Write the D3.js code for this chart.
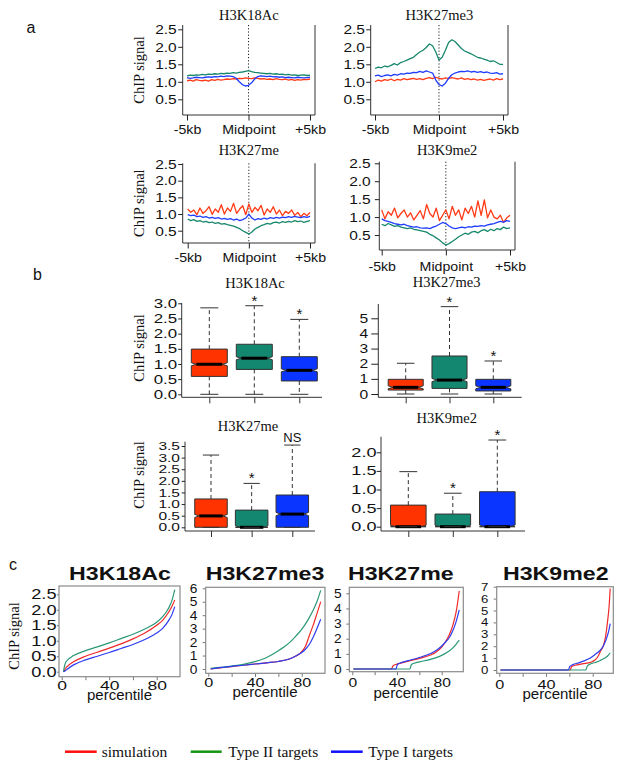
<!DOCTYPE html>
<html><head><meta charset="utf-8">
<script src="https://cdn.jsdelivr.net/npm/d3@7"></script>
<style>body{margin:0;background:#fff}</style>
</head><body>
<script>
// ================= DATA =================
const groups = ["simulation", "Type II targets", "Type I targets"];
const kbTickValues = [-5, 0, 5];
const kbTickLabels = ["-5kb", "Midpoint", "+5kb"];
const profileBins = d3.range(-5, 5.0001, 0.25); // bin centres (kb)
const ticksA = [0.5, 1, 1.5, 2, 2.5];

// panel a : average profiles around midpoint
const profH3K18Ac_sim = [1.03,1.05,1.02,1.06,1.04,1.03,1.05,1.02,1.06,1.04,1.07,1.05,1.06,1.08,1.07,1.09,1.08,1.10,1.09,1.11,1.10,1.09,1.11,1.10,1.08,1.09,1.07,1.08,1.06,1.09,1.07,1.06,1.08,1.05,1.07,1.04,1.06,1.05,1.07,1.06,1.08];
const profH3K18Ac_t2  = [1.17,1.19,1.18,1.20,1.19,1.21,1.20,1.22,1.21,1.23,1.22,1.24,1.23,1.25,1.24,1.26,1.25,1.27,1.28,1.30,1.32,1.29,1.27,1.26,1.25,1.24,1.23,1.24,1.22,1.23,1.21,1.22,1.20,1.21,1.19,1.20,1.18,1.19,1.20,1.18,1.19];
const profH3K18Ac_t1  = [1.12,1.10,1.11,1.13,1.12,1.11,1.13,1.14,1.13,1.15,1.14,1.16,1.15,1.17,1.16,1.15,1.10,1.00,0.92,0.88,0.90,0.97,1.08,1.15,1.17,1.16,1.15,1.16,1.14,1.15,1.13,1.14,1.12,1.13,1.12,1.11,1.13,1.12,1.11,1.12,1.13];
const profH3K27me3_sim = [1.00,1.05,1.02,1.06,1.04,1.08,1.03,1.07,1.05,1.09,1.06,1.08,1.10,1.07,1.09,1.06,1.10,1.12,1.09,1.13,1.10,1.08,1.11,1.09,1.12,1.10,1.08,1.11,1.07,1.09,1.06,1.08,1.05,1.07,1.04,1.06,1.08,1.05,1.09,1.06,1.08];
const profH3K27me3_t2  = [1.38,1.42,1.40,1.45,1.43,1.47,1.52,1.48,1.55,1.58,1.62,1.66,1.70,1.78,1.85,1.90,1.98,2.08,2.03,1.85,1.62,1.70,1.90,2.12,2.20,2.15,2.05,1.95,1.88,1.84,1.80,1.75,1.70,1.68,1.65,1.62,1.58,1.60,1.55,1.50,1.50];
const profH3K27me3_t1  = [1.17,1.19,1.15,1.18,1.20,1.17,1.21,1.19,1.23,1.22,1.25,1.24,1.27,1.26,1.30,1.27,1.31,1.28,1.25,1.05,0.92,0.88,0.96,1.10,1.20,1.25,1.28,1.30,1.29,1.31,1.28,1.30,1.27,1.29,1.26,1.28,1.25,1.24,1.26,1.22,1.23];
const profH3K27me_sim = [1.15,1.05,1.12,0.98,1.18,1.02,1.10,1.22,0.99,1.15,1.05,1.28,1.00,1.18,1.08,1.32,1.02,1.15,1.25,0.98,1.30,1.05,1.20,1.10,1.26,0.97,1.15,1.05,1.22,1.00,1.12,0.95,1.08,1.02,1.12,0.96,1.05,0.92,1.02,0.95,1.05];
const profH3K27me_t2  = [0.85,0.80,0.83,0.78,0.80,0.76,0.78,0.74,0.76,0.72,0.74,0.70,0.71,0.68,0.66,0.64,0.60,0.56,0.50,0.45,0.40,0.46,0.55,0.60,0.65,0.68,0.72,0.70,0.74,0.76,0.73,0.77,0.75,0.78,0.76,0.80,0.77,0.79,0.75,0.78,0.80];
const profH3K27me_t1  = [0.98,0.95,0.97,0.92,0.94,0.90,0.92,0.88,0.90,0.87,0.89,0.85,0.87,0.84,0.86,0.82,0.85,0.80,0.83,0.88,1.00,0.88,0.82,0.86,0.84,0.88,0.85,0.89,0.87,0.90,0.88,0.91,0.89,0.92,0.90,0.93,0.91,0.89,0.92,0.90,0.93];
const profH3K9me2_sim = [1.20,0.95,1.15,1.05,1.25,0.98,1.10,1.20,1.00,1.12,0.92,1.05,1.18,0.95,1.35,1.10,1.00,1.25,0.90,1.05,1.20,0.95,1.30,1.05,1.20,0.92,1.25,1.10,1.30,1.00,1.45,1.05,1.48,0.98,1.20,1.00,0.95,1.05,0.85,0.98,1.05];
const profH3K9me2_t2  = [0.80,0.76,0.82,0.78,0.74,0.76,0.72,0.70,0.68,0.70,0.66,0.64,0.62,0.60,0.58,0.52,0.48,0.42,0.36,0.28,0.22,0.26,0.32,0.38,0.45,0.50,0.55,0.52,0.58,0.60,0.56,0.62,0.65,0.60,0.66,0.62,0.68,0.65,0.72,0.68,0.70];
const profH3K9me2_t1  = [0.95,0.90,0.88,0.85,0.82,0.80,0.78,0.80,0.76,0.74,0.72,0.73,0.70,0.69,0.70,0.68,0.72,0.75,0.80,0.85,0.82,0.75,0.70,0.68,0.70,0.72,0.70,0.73,0.72,0.75,0.74,0.76,0.75,0.78,0.80,0.82,0.85,0.88,0.86,0.90,0.88];

// panel b : box statistics [lower whisker, Q1, median, Q3, upper whisker]
const boxH3K18Ac_sim = [0, 0.59, 0.99, 1.49, 2.85];
const boxH3K18Ac_t2  = [0, 0.82, 1.19, 1.65, 2.92];
const boxH3K18Ac_t1  = [0, 0.44, 0.79, 1.24, 2.47];
const boxH3K27me3_sim = [0, 0.26, 0.44, 0.97, 2.03];
const boxH3K27me3_t2  = [0, 0.37, 0.92, 2.51, 5.77];
const boxH3K27me3_t1  = [0, 0.20, 0.44, 0.97, 2.18];
const boxH3K27me_sim = [0, 0, 0.49, 1.22, 3.11];
const boxH3K27me_t2  = [0, 0, 0, 0.74, 1.89];
const boxH3K27me_t1  = [0, 0, 0.57, 1.39, 3.54];
const boxH3K9me2_sim = [0, 0, 0, 0.58, 1.48];
const boxH3K9me2_t2  = [0, 0, 0, 0.34, 0.90];
const boxH3K9me2_t1  = [0, 0, 0, 0.94, 2.33];
const sigH3K18Ac  = ["", "*", "*"];
const sigH3K27me3 = ["", "*", "*"];
const sigH3K27me  = ["", "*", "NS"];
const sigH3K9me2  = ["", "*", "*"];
const ticksB1 = [0, 0.5, 1, 1.5, 2, 2.5, 3];
const ticksB2 = [0, 1, 2, 3, 4, 5];
const ticksB3 = [0, 0.5, 1, 1.5, 2, 2.5, 3, 3.5];
const ticksB4 = [0, 0.5, 1, 1.5, 2];

// panel c : sorted signal vs percentile  [percentile, signal]
const pctTicks = [0, 20, 40, 60, 80];
const pctLabels = ["0", "", "40", "", "80"];
const cdfH3K18Ac_sim = [[1.5,0],[2.5,0.05],[3.5,0.12],[5,0.18],[10,0.32],[20,0.5],[30,0.63],[40,0.76],[50,0.9],[60,1.06],[70,1.25],[80,1.5],[85,1.66],[90,1.92],[93,2.12],[95.2,2.32]];
const cdfH3K18Ac_t2  = [[1.5,0],[2.2,0.15],[3,0.27],[5,0.38],[10,0.52],[20,0.68],[30,0.8],[40,0.93],[50,1.07],[60,1.21],[70,1.38],[80,1.6],[85,1.78],[90,2.05],[93,2.32],[95.2,2.65]];
const cdfH3K18Ac_t1  = [[1.5,0],[3,0.03],[5,0.09],[10,0.22],[20,0.38],[30,0.5],[40,0.62],[50,0.75],[60,0.88],[70,1.04],[80,1.25],[85,1.4],[90,1.65],[93,1.86],[95.2,2.1]];
const cdfH3K27me3_sim = [[2,0],[10,0.08],[20,0.18],[30,0.28],[40,0.37],[50,0.46],[60,0.56],[70,0.76],[75,0.96],[79,1.2],[83,1.65],[87,2.6],[90,3.3],[93,4.1],[96.3,5.0]];
const cdfH3K27me3_t2  = [[2,0.05],[10,0.12],[20,0.22],[30,0.35],[40,0.55],[50,0.85],[60,1.35],[65,1.65],[70,2.0],[75,2.45],[80,2.95],[85,3.6],[90,4.4],[93,5.0],[96.3,5.85]];
const cdfH3K27me3_t1  = [[2,0],[10,0.1],[20,0.2],[30,0.28],[40,0.37],[50,0.46],[60,0.56],[70,0.76],[75,0.96],[79,1.17],[83,1.45],[87,1.9],[90,2.4],[93,3.0],[96.3,3.7]];
const cdfH3K27me_sim = [[1,0],[35,0],[36.5,0.22],[40,0.32],[45,0.42],[50,0.52],[60,0.7],[70,0.92],[75,1.12],[80,1.45],[83,1.75],[87,2.3],[90,2.9],[93,3.8],[95.7,5.15]];
const cdfH3K27me_t2  = [[1,0],[51.5,0],[53,0.3],[56,0.4],[60,0.47],[70,0.64],[75,0.75],[80,0.9],[85,1.1],[90,1.4],[93,1.65],[95.7,1.9]];
const cdfH3K27me_t1  = [[1,0],[39,0],[40.5,0.3],[43,0.4],[50,0.55],[60,0.76],[70,1.02],[75,1.22],[80,1.52],[83,1.75],[87,2.1],[90,2.55],[93,3.15],[95.7,3.9]];
const cdfH3K9me2_sim = [[1,0],[60.5,0],[62,0.3],[65,0.4],[70,0.5],[75,0.58],[80,0.72],[84,1.05],[87,1.65],[89,2.0],[91,2.8],[92.5,3.9],[94,5.3],[95,6.85]];
const cdfH3K9me2_t2  = [[1,0],[74,0],[75.5,0.35],[78,0.5],[82,0.63],[86,0.78],[90,0.98],[93,1.2],[95,1.45]];
const cdfH3K9me2_t1  = [[1,0],[59,0],[60.5,0.3],[63,0.45],[68,0.6],[72,0.75],[78,1.0],[82,1.3],[86,1.62],[88,1.85],[90,2.2],[92,2.7],[94,3.4],[95,3.9]];
const ticksC1 = [0, 0.5, 1, 1.5, 2, 2.5];
const ticksC2 = [0, 1, 2, 3, 4, 5, 6];
const ticksC3 = [0, 1, 2, 3, 4, 5];
const ticksC4 = [0, 1, 2, 3, 4, 5, 6, 7];

// ================= STYLE / LAYOUT =================
const SANS = "'Liberation Sans', Arial, Helvetica, sans-serif";
const SERIF = "'Liberation Serif', 'Times New Roman', Times, serif";
const colA = ["#ff3a14", "#17876c", "#1f3cff"];
const colB = ["#ff3300", "#13876f", "#0a34ff"];
const colC = ["#ee2a2a", "#2a9877", "#2c3cf0"];
const colLegend = ["#ff0d0d", "#149614", "#1010ff"];

const svg = d3.select("body").append("svg").attr("width", 624).attr("height", 769).style("display", "block");
svg.append("rect").attr("width", 624).attr("height", 769).attr("fill", "#fff");

function addText(g, x, y, s, o = {}) {
  let tr = `translate(${x},${y})`;
  if (o.rot) tr += ` rotate(${o.rot})`;
  if (o.sx) tr += ` scale(${o.sx},1)`;
  return g.append("text").attr("transform", tr)
    .attr("text-anchor", o.anchor || "middle")
    .attr("font-family", o.family || SANS)
    .attr("font-size", o.size || 14)
    .attr("font-weight", o.weight || "normal")
    .attr("fill", o.fill || "#111").text(s);
}
function styleLeft(sel, size, sx, gap, tickCol) {
  sel.select(".domain").remove();
  sel.selectAll(".tick line").attr("stroke", tickCol || "#222");
  sel.selectAll(".tick text").attr("x", 0).attr("font-family", SANS).attr("font-size", size).attr("fill", "#111")
    .attr("transform", `translate(${-gap},0) scale(${sx},1)`);
}
function styleBottom(sel, size, sx, gap, tickCol) {
  sel.select(".domain").remove();
  sel.selectAll(".tick line").attr("stroke", tickCol || "#222");
  sel.selectAll(".tick text").attr("y", gap).attr("font-family", SANS).attr("font-size", size).attr("fill", "#111")
    .attr("transform", `scale(${sx},1)`);
}

// ---------- panel a ----------
function drawProfile(c, series, title, ylab) {
  const g = svg.append("g");
  const x = d3.scaleLinear().domain([-5, 5]).range(c.xr);
  const y = d3.scaleLinear().domain([0.5, 2.5]).range(c.yr);
  g.append("path").attr("d", `M${c.L},${c.T}V${c.B}H${c.R}V${c.T}`).attr("fill", "none").attr("stroke", "#333").attr("stroke-width", 1);
  const ya = g.append("g").attr("transform", `translate(${c.L},0)`)
    .call(d3.axisLeft(y).tickValues(ticksA).tickFormat(d3.format(".1f")).tickSize(4.5));
  styleLeft(ya, 13.5, 1.15, c.yGap);
  const xa = g.append("g").attr("transform", `translate(0,${c.B})`)
    .call(d3.axisBottom(x).tickValues(kbTickValues).tickFormat((d, i) => kbTickLabels[i]).tickSize(5.5));
  styleBottom(xa, 13.5, 1.05, c.xGap);
  g.append("line").attr("x1", x(0)).attr("x2", x(0)).attr("y1", c.T).attr("y2", c.B)
    .attr("stroke", "#222").attr("stroke-width", 1).attr("stroke-dasharray", "1.2,2");
  const line = d3.line().x((d, i) => x(profileBins[i])).y(d => y(d));
  series.forEach((s, k) => {
    g.append("path").datum(s).attr("d", line).attr("fill", "none").attr("stroke", colA[k]).attr("stroke-width", 1.3).attr("stroke-linejoin", "round");
  });
  addText(g, (c.L + c.R) / 2, c.titleY, title, { family: SERIF, size: 14.5 });
  if (ylab) addText(g, 144, (c.T + c.B) / 2, "ChIP signal", { family: SERIF, size: 14.5, rot: -90 });
}

// ---------- panel b ----------
function drawBoxes(c, stats, sigs, ticks, fmt, title) {
  const g = svg.append("g");
  const y = d3.scaleLinear().domain([0, c.yv]).range([c.y0, c.y1]);
  const x = d3.scaleLinear().domain([1, 3]).range([c.c1, c.c3]);
  const bw = (x(2) - x(1)) * 0.8, hw = bw / 2, nf = 0.72;
  g.append("path").attr("d", `M${c.L},${c.T}V${c.B}H${c.R}`).attr("fill", "none").attr("stroke", "#333").attr("stroke-width", 1);
  const ya = g.append("g").attr("transform", `translate(${c.L},0)`)
    .call(d3.axisLeft(y).tickValues(ticks).tickFormat(d3.format(fmt)).tickSize(c.tick));
  styleLeft(ya, c.fs, c.sx, c.gap);
  const xa = g.append("g").attr("transform", `translate(0,${c.B})`)
    .call(d3.axisBottom(x).tickValues([1, 2, 3]).tickFormat("").tickSize(6));
  xa.select(".domain").remove(); xa.selectAll(".tick line").attr("stroke", "#333");
  stats.forEach((s, i) => {
    const cx = x(i + 1);
    const [lo, q1, med, q3, hi] = s;
    const yq1 = y(q1), yq3 = y(q3), ym = y(med), ylo = y(lo), yhi = y(hi);
    const dash = { stroke: "#333", "stroke-width": 1, "stroke-dasharray": "4,3" };
    const seg = (x1, y1, x2, y2, st) => { const l = g.append("line").attr("x1", x1).attr("y1", y1).attr("x2", x2).attr("y2", y2); Object.entries(st).forEach(([k, v]) => l.attr(k, v)); };
    if (hi > q3) seg(cx, yq3, cx, yhi, dash);
    if (lo < q1) seg(cx, yq1, cx, ylo, dash);
    const n = Math.max(1.5, (yq1 - yq3) * 0.05);
    const nTop = Math.max(yq3, ym - n), nBot = Math.min(yq1, ym + n);
    const pts = [[cx - hw, yq1], [cx + hw, yq1], [cx + hw, nBot], [cx + hw * nf, ym], [cx + hw, nTop], [cx + hw, yq3],
                 [cx - hw, yq3], [cx - hw, nTop], [cx - hw * nf, ym], [cx - hw, nBot]];
    g.append("polygon").attr("points", pts.map(p => p.join(",")).join(" ")).attr("fill", colB[i]).attr("stroke", "#333").attr("stroke-width", 1);
    seg(cx - hw * nf, ym, cx + hw * nf, ym, { stroke: "#000", "stroke-width": 3 });
    seg(cx - hw / 2, yhi, cx + hw / 2, yhi, { stroke: "#333", "stroke-width": 1 });
    seg(cx - hw / 2, ylo, cx + hw / 2, ylo, { stroke: "#333", "stroke-width": 1 });
    if (sigs[i] === "*") addText(g, cx, yhi, "*", { size: 15 });
    else if (sigs[i]) addText(g, cx, yhi - 3.5, sigs[i], { size: 13 });
  });
  addText(g, c.titleX, c.titleY, title, { family: SERIF, size: 14.5 });
  if (c.ylab) addText(g, 143.5, c.ylabY, "ChIP signal", { family: SERIF, size: 14.5, rot: -90 });
}

// ---------- panel c ----------
function drawCdf(c, series, ticks, fmt, title) {
  const g = svg.append("g");
  const x = d3.scaleLinear().domain([0, 80]).range([c.x0, c.x80]);
  const y = d3.scaleLinear().domain([0, c.yv]).range([c.y0, c.y1]);
  const ya = g.append("g").attr("transform", `translate(${c.L},0)`)
    .call(d3.axisLeft(y).tickValues(ticks).tickFormat(d3.format(fmt)).tickSize(c.ytick));
  styleLeft(ya, c.yfs, c.ysx, c.ygap, "#777");
  const xa = g.append("g").attr("transform", `translate(0,${c.B})`)
    .call(d3.axisBottom(x).tickValues(pctTicks).tickFormat((d, i) => pctLabels[i]).tickSize(3.5));
  styleBottom(xa, c.xfs, c.xsx, c.xgap, "#777");
  const line = d3.line().x(d => x(d[0])).y(d => y(d[1])).curve(d3.curveMonotoneX);
  series.forEach((s, k) => {
    g.append("path").datum(s).attr("d", line).attr("fill", "none").attr("stroke", colC[k]).attr("stroke-width", 1.2);
  });
  g.append("rect").attr("x", c.L).attr("y", c.T).attr("width", c.R - c.L).attr("height", c.B - c.T)
    .attr("fill", "none").attr("stroke", "#8a8a8a").attr("stroke-width", 1.2);
  addText(g, c.titleX, 579.5, title, { size: 19, weight: "bold", sx: 1.22 });
  addText(g, c.pX, c.pY, "percentile", { size: 15 });
  if (c.ylab) addText(g, 18.5, 636, "ChIP signal", { family: SERIF, size: 14.5, rot: -90 });
}

// ================= DRAW =================
addText(svg, 31, 33.3, "a", { size: 16 });
addText(svg, 37.5, 280, "b", { size: 16 });
addText(svg, 13, 570, "c", { size: 16 });

drawProfile({ L: 182.7, R: 315, T: 25, B: 115, xr: [187, 310], yr: [99.3, 29.3], yGap: 6, xGap: 9.5, titleY: 19.5 },
  [profH3K18Ac_sim, profH3K18Ac_t2, profH3K18Ac_t1], "H3K18Ac", true);
drawProfile({ L: 370.7, R: 508, T: 25, B: 115, xr: [375, 503], yr: [99.3, 29.3], yGap: 5.7, xGap: 9.5, titleY: 19.5 },
  [profH3K27me3_sim, profH3K27me3_t2, profH3K27me3_t1], "H3K27me3", false);
drawProfile({ L: 182.7, R: 315, T: 163.3, B: 243, xr: [187.7, 310], yr: [230.7, 164], yGap: 6, xGap: 9, titleY: 154.5 },
  [profH3K27me_sim, profH3K27me_t2, profH3K27me_t1], "H3K27me", true);
drawProfile({ L: 379.3, R: 515, T: 161.7, B: 250, xr: [381.7, 510], yr: [235, 163.3], yGap: 8.6, xGap: 11, titleY: 154.5 },
  [profH3K9me2_sim, profH3K9me2_t2, profH3K9me2_t1], "H3K9me2", false);

drawBoxes({ L: 181.7, R: 322, T: 303, B: 397.3, yv: 3, y0: 394.3, y1: 303.3, c1: 209.3, c3: 299.3, tick: 3.5, gap: 4.5, fs: 13, sx: 1.3,
  titleX: 255, titleY: 288, ylab: true, ylabY: 348 },
  [boxH3K18Ac_sim, boxH3K18Ac_t2, boxH3K18Ac_t1], sigH3K18Ac, ticksB1, ".1f", "H3K18Ac");
drawBoxes({ L: 378.3, R: 521.7, T: 304, B: 397.3, yv: 5, y0: 394, y1: 318.3, c1: 405.7, c3: 493.3, tick: 7, gap: 10, fs: 12.5, sx: 1.25,
  titleX: 446.7, titleY: 286.5, ylab: false },
  [boxH3K27me3_sim, boxH3K27me3_t2, boxH3K27me3_t1], sigH3K27me3, ticksB2, "d", "H3K27me3");
drawBoxes({ L: 185, R: 315, T: 441.7, B: 531, yv: 3.5, y0: 527.3, y1: 446, c1: 211, c3: 292.3, tick: 3.3, gap: 5, fs: 11.5, sx: 1.35,
  titleX: 248, titleY: 430.5, ylab: true, ylabY: 475 },
  [boxH3K27me_sim, boxH3K27me_t2, boxH3K27me_t1], sigH3K27me, ticksB3, ".1f", "H3K27me");
drawBoxes({ L: 381, R: 525, T: 436.7, B: 531, yv: 2, y0: 526.7, y1: 452.3, c1: 408.3, c3: 497.3, tick: 4.3, gap: 4.5, fs: 12.5, sx: 1.45,
  titleX: 446.7, titleY: 423, ylab: false },
  [boxH3K9me2_sim, boxH3K9me2_t2, boxH3K9me2_t1], sigH3K9me2, ticksB4, ".1f", "H3K9me2");

drawCdf({ L: 59, R: 180, T: 586, B: 676.7, x0: 61.7, x80: 156.7, yv: 2.5, y0: 671.7, y1: 594.3, ytick: 2, ygap: 2.5, yfs: 14, ysx: 1.3,
  xgap: 3.3, xfs: 13.5, xsx: 1.3, titleX: 120, pX: 119.5, pY: 699.5, ylab: true },
  [cdfH3K18Ac_sim, cdfH3K18Ac_t2, cdfH3K18Ac_t1], ticksC1, ".1f", "H3K18Ac");
drawCdf({ L: 205.7, R: 325, T: 587.3, B: 673.3, x0: 208.3, x80: 301.7, yv: 6, y0: 669, y1: 588.3, ytick: 3, ygap: 8.4, yfs: 12.5, ysx: 1.1,
  xgap: 5.2, xfs: 12, xsx: 1.35, titleX: 265, pX: 265, pY: 696.5 },
  [cdfH3K27me3_sim, cdfH3K27me3_t2, cdfH3K27me3_t1], ticksC2, "d", "H3K27me3");
drawCdf({ L: 349.3, R: 463.3, T: 587.3, B: 671.7, x0: 352.3, x80: 441.7, yv: 5, y0: 669, y1: 593.3, ytick: 3, ygap: 7.6, yfs: 12.5, ysx: 1.1,
  xgap: 6.8, xfs: 12, xsx: 1.3, titleX: 400.8, pX: 406, pY: 697.5 },
  [cdfH3K27me_sim, cdfH3K27me_t2, cdfH3K27me_t1], ticksC3, "d", "H3K27me");
drawCdf({ L: 496.7, R: 613.3, T: 586.7, B: 673.3, x0: 499.3, x80: 592.7, yv: 7, y0: 670, y1: 586.7, ytick: 3, ygap: 8.4, yfs: 11, ysx: 1.2,
  xgap: 6.9, xfs: 12.5, xsx: 1.3, titleX: 555.8, pX: 555, pY: 699 },
  [cdfH3K9me2_sim, cdfH3K9me2_t2, cdfH3K9me2_t1], ticksC4, "d", "H3K9me2");

// ---------- legend ----------
const legendItems = [{ x1: 65, x2: 96.7, tx: 101.7 }, { x1: 190.7, x2: 221.7, tx: 228.3 }, { x1: 331, x2: 362.7, tx: 368.3 }];
const lg = svg.append("g");
legendItems.forEach((p, i) => {
  lg.append("line").attr("x1", p.x1).attr("x2", p.x2).attr("y1", 751.7).attr("y2", 751.7).attr("stroke", colLegend[i]).attr("stroke-width", 2.5);
  addText(lg, p.tx, 756.5, groups[i], { family: SERIF, size: 15.5, anchor: "start" });
});
</script>
</body></html>
